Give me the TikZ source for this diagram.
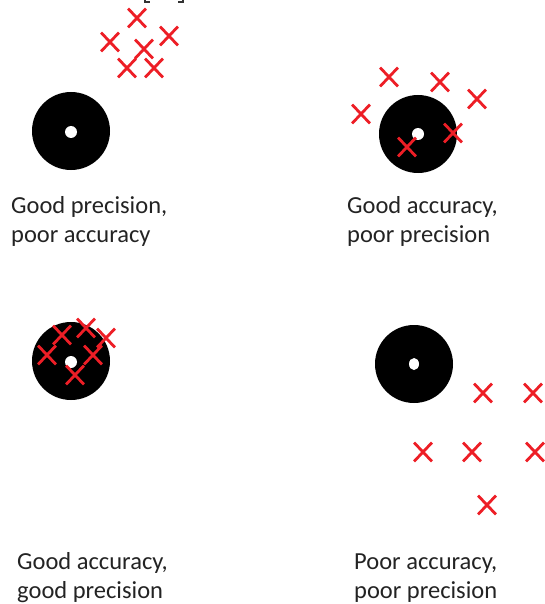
\documentclass[tikz,border=0pt]{standalone}
\usepackage{fontspec}
\setmainfont{Carlito}
\usetikzlibrary{shapes.misc,shapes.geometric}
\definecolor{xred}{RGB}{237,30,38}
\definecolor{txt}{RGB}{35,35,35}
\tikzset{
  target/.style={circle, fill=black, minimum size=78pt, inner sep=0pt},
  bull/.style={circle, fill=white, minimum size=12pt, inner sep=0pt},
  hit/.style={cross out, draw=xred, line width=2.8pt, minimum width=15pt, minimum height=16pt, inner sep=0pt},
  lbl/.style={anchor=base west, inner sep=0pt, text=txt, font=\fontsize{24.5}{29}\selectfont, align=left}
}
\begin{document}
\begin{tikzpicture}[x=1pt, y=-1pt]
\useasboundingbox (0,0) rectangle (545,604);
% cropped bracket fragments at top
\draw[black!80, line width=1.2pt] (145,0) -- (145,2) -- (150,2);
\draw[black!80, line width=1.2pt] (183,0) -- (183,2) -- (178,2);

% top-left: good precision, poor accuracy
\node[target] (c1) at (71,131) {};
\node[bull] (b1) at (71,132) {};
\node[hit] (h11) at (137,18) {};
\node[hit] (h12) at (110,42) {};
\node[hit] (h13) at (169,36) {};
\node[hit] (h14) at (144,49) {};
\node[hit] (h15) at (127,68) {};
\node[hit] (h16) at (154,68) {};
\node[lbl] (l1) at (11,242) {Good precision,\\poor accuracy};

% top-right: good accuracy, poor precision
\node[target] (c2) at (418,134) {};
\node[bull] (b2) at (418,134) {};
\node[hit] (h21) at (389,77) {};
\node[hit] (h22) at (440,82) {};
\node[hit] (h23) at (361,114) {};
\node[hit] (h24) at (477,99) {};
\node[hit] (h25) at (453,133) {};
\node[hit] (h26) at (407,147) {};
\node[lbl] (l2) at (347,242) {Good accuracy,\\poor precision};

% bottom-left: good accuracy, good precision
\node[target] (c3) at (71,361) {};
\node[bull] (b3) at (71,362) {};
\node[hit] (h31) at (62,335) {};
\node[hit] (h32) at (86,328) {};
\node[hit] (h33) at (106,338) {};
\node[hit] (h34) at (47,355) {};
\node[hit] (h35) at (93,355) {};
\node[hit] (h36) at (75,375) {};
\node[lbl] (l3) at (17,598) {Good accuracy,\\good precision};

% bottom-right: poor accuracy, poor precision
\node[target] (c4) at (414,364) {};
\node[ellipse, fill=white, minimum width=10pt, minimum height=12pt, inner sep=0pt] (b4) at (414,364) {};
\node[hit] (h41) at (483,393) {};
\node[hit] (h42) at (533,393) {};
\node[hit] (h43) at (423,452) {};
\node[hit] (h44) at (472,452) {};
\node[hit] (h45) at (535,452) {};
\node[hit] (h46) at (487,505) {};
\node[lbl] (l4) at (354,598) {Poor accuracy,\\poor precision};
\end{tikzpicture}
\end{document}
